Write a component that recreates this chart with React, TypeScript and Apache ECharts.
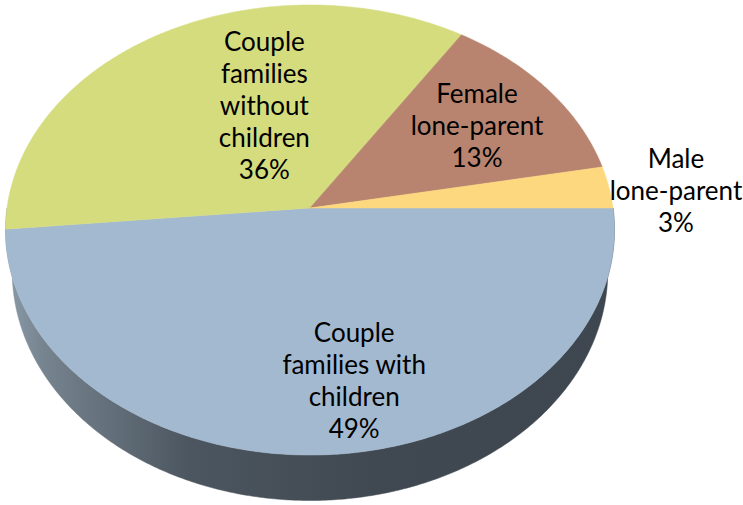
import React, { useEffect, useRef } from "react";
import * as echarts from "echarts";

// ---- data ----
const categories = [
  "Couple\nfamilies with\nchildren",
  "Couple\nfamilies\nwithout\nchildren",
  "Female\nlone-parent",
  "Male\nlone-parent",
];
const values = [48.5, 35.6, 12.9, 3.0];

// ---- style ----
const topColors = ["#a3b9cf", "#d5dc7e", "#b8846f", "#fdd87e"];
const labelAngleShift = [-8, 13.3, 0, 1.6];
const labelRadius = [0.73, 0.51, 0.69, 1.22];

const CX = 310;
const CY = 208;
const RX = 303;
const RY = 222.9;
const K = 0.0978;
const DEPTH = 41;
const BOTTOM_SHRINK = 0.978;

const total = values.reduce((a, b) => a + b, 0);
const starts: number[] = [];
const ends: number[] = [];
{
  let acc = 0;
  values.forEach((v) => {
    starts.push((acc / total) * 360);
    acc += v;
    ends.push((acc / total) * 360);
  });
}

function project(deg: number, r: number, dz = 0, shrink = 1): number[] {
  const t = (deg * Math.PI) / 180;
  const u = r * Math.cos(t);
  const v = -r * Math.sin(t);
  const s = 1 / (1 + K * v);
  return [CX + RX * u * s * shrink, CY - RY * v * s + dz * s];
}

function arc(a0: number, a1: number, r: number, dz = 0, shrink = 1): number[][] {
  const pts: number[][] = [];
  const n = Math.max(2, Math.ceil((a1 - a0) / 0.5));
  for (let j = 0; j <= n; j++) pts.push(project(a0 + ((a1 - a0) * j) / n, r, dz, shrink));
  return pts;
}

const sideGradient = new echarts.graphic.LinearGradient(
  7,
  0,
  613,
  0,
  [
    { offset: 0, color: "#8a9aa8" },
    { offset: 0.06, color: "#76848f" },
    { offset: 0.3, color: "#4c5660" },
    { offset: 0.6, color: "#404951" },
    { offset: 1, color: "#3e474f" },
  ],
  true
);

export default function App() {
  const ref = useRef<HTMLDivElement>(null);
  useEffect(() => {
    document.body.style.margin = "0";
    if (!ref.current) return;
    const chart = echarts.init(ref.current, null, { renderer: "svg" });
    const seriesData = values.map((v, i) => ({ name: categories[i], value: v }));
    chart.setOption({
      animation: false,
      backgroundColor: "#ffffff",
      series: [
        {
          type: "custom",
          coordinateSystem: "none",
          z: 1,
          silent: true,
          data: seriesData,
          renderItem: (params: any) => {
            const i = params.dataIndex;
            const a0 = Math.max(starts[i], 0);
            const a1 = Math.min(ends[i], 180);
            if (a1 <= a0) return { type: "group", children: [] };
            const top = arc(a0, a1, 1, 0);
            const bottom = arc(a0, a1, 1, DEPTH, BOTTOM_SHRINK).reverse();
            return {
              type: "polygon",
              shape: { points: top.concat(bottom) },
              style: { fill: sideGradient, stroke: sideGradient, lineWidth: 0.5 },
            };
          },
        },
        {
          type: "custom",
          coordinateSystem: "none",
          z: 2,
          silent: true,
          data: seriesData,
          renderItem: (params: any, api: any) => {
            const i = params.dataIndex;
            const val = api.value(0);
            const pts = [project(0, 0)].concat(arc(starts[i], ends[i], 1, 0));
            const mid = (starts[i] + ends[i]) / 2 + labelAngleShift[i];
            const lp = project(mid, labelRadius[i]);
            const pct = Math.round((val / total) * 100) + "%";
            return {
              type: "group",
              children: [
                {
                  type: "polygon",
                  shape: { points: pts },
                  style: { fill: topColors[i], stroke: topColors[i], lineWidth: 0.5 },
                },
                {
                  type: "text",
                  x: lp[0],
                  y: lp[1],
                  z2: 10,
                  style: {
                    text: categories[i] + "\n" + pct,
                    fontSize: 26,
                    fontFamily: "Lato",
                    fill: "#000000",
                    align: "center",
                    verticalAlign: "middle",
                    textAlign: "center",
                    textVerticalAlign: "middle",
                    lineHeight: 32,
                  },
                },
              ],
            };
          },
        },
      ],
    });
    return () => chart.dispose();
  }, []);
  return <div ref={ref} style={{ width: 743, height: 505 }} />;
}
